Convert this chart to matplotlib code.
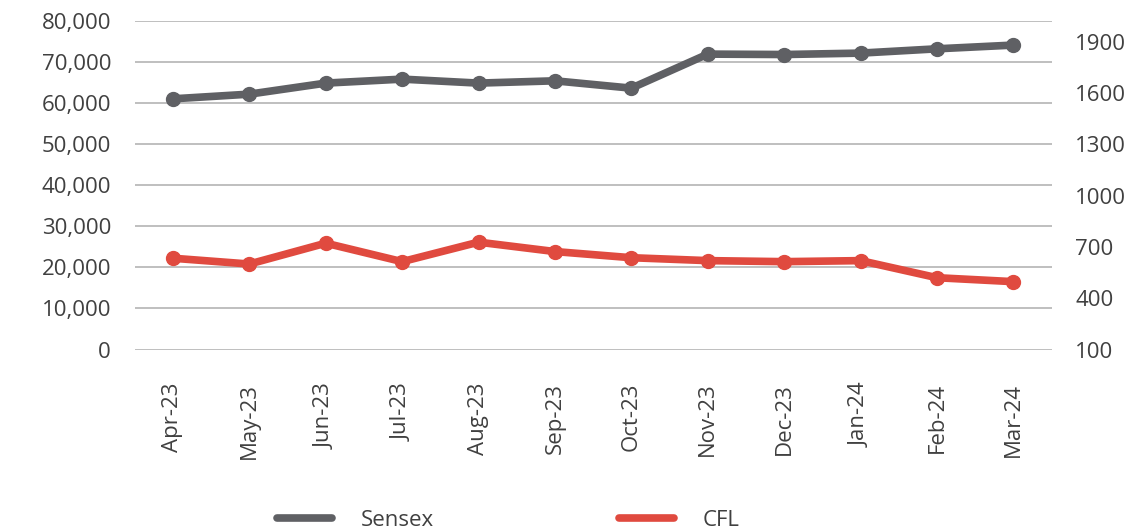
import numpy as np
import matplotlib
matplotlib.use("Agg")
import matplotlib.pyplot as plt
from matplotlib.ticker import FuncFormatter

plt.rcParams['font.family'] = ['Open Sans', 'DejaVu Sans']

months = ['Apr-23', 'May-23', 'Jun-23', 'Jul-23', 'Aug-23', 'Sep-23',
          'Oct-23', 'Nov-23', 'Dec-23', 'Jan-24', 'Feb-24', 'Mar-24']
sensex = [61100, 62240, 64930, 65900, 64930, 65490,
          63700, 72000, 71900, 72240, 73290, 74200]
cfl = [634, 600, 722, 614, 728, 673, 637, 620, 614, 620, 520, 497]

left_ticks = [0, 10000, 20000, 30000, 40000, 50000, 60000, 70000, 80000]
right_ticks = [100, 400, 700, 1000, 1300, 1600, 1900]

grey = '#5f6064'
red = '#e04a3f'
txt = '#404040'

fig = plt.figure(figsize=(11.32, 5.32), dpi=100)
ax = fig.add_axes([0.119, 0.343, 0.81, 0.617])
ax2 = ax.twinx()

x = np.arange(len(months))
ax.plot(x, sensex, color=grey, lw=5.5, marker='o', ms=10, solid_capstyle='round', zorder=3)
ax2.plot(x, cfl, color=red, lw=5.5, marker='o', ms=10, solid_capstyle='round', zorder=3)

ax.set_xlim(-0.5, len(months) - 0.5)
ax.set_ylim(0, 80000)
ax2.set_ylim(100, 2020)
ax.set_yticks(left_ticks)
ax2.set_yticks(right_ticks)
ax.yaxis.set_major_formatter(FuncFormatter(lambda v, p: f'{int(v):,}'))
ax.set_xticks(x)
ax.set_xticklabels(months, rotation=90)

ax.grid(axis='y', color='#b4b4b4', lw=1.2)
ax.set_axisbelow(True)
for a in (ax, ax2):
    for s in a.spines.values():
        s.set_visible(False)
    a.tick_params(length=0, labelsize=16, colors=txt)
ax.tick_params(axis='y', pad=17)
ax2.tick_params(axis='y', pad=17)
ax.tick_params(axis='x', pad=24)

# legend handles without markers
h1 = plt.Line2D([], [], color=grey, lw=5.5, solid_capstyle='round')
h2 = plt.Line2D([], [], color=red, lw=5.5, solid_capstyle='round')
leg = fig.legend([h1, h2], ['Sensex', 'CFL'], loc='center', ncol=2,
                 bbox_to_anchor=(0.449, 0.022), frameon=False, fontsize=16,
                 handlelength=2.5, handletextpad=1.3, columnspacing=8.3)
for t in leg.get_texts():
    t.set_color(txt)

fig.savefig('out.png', dpi=100)
